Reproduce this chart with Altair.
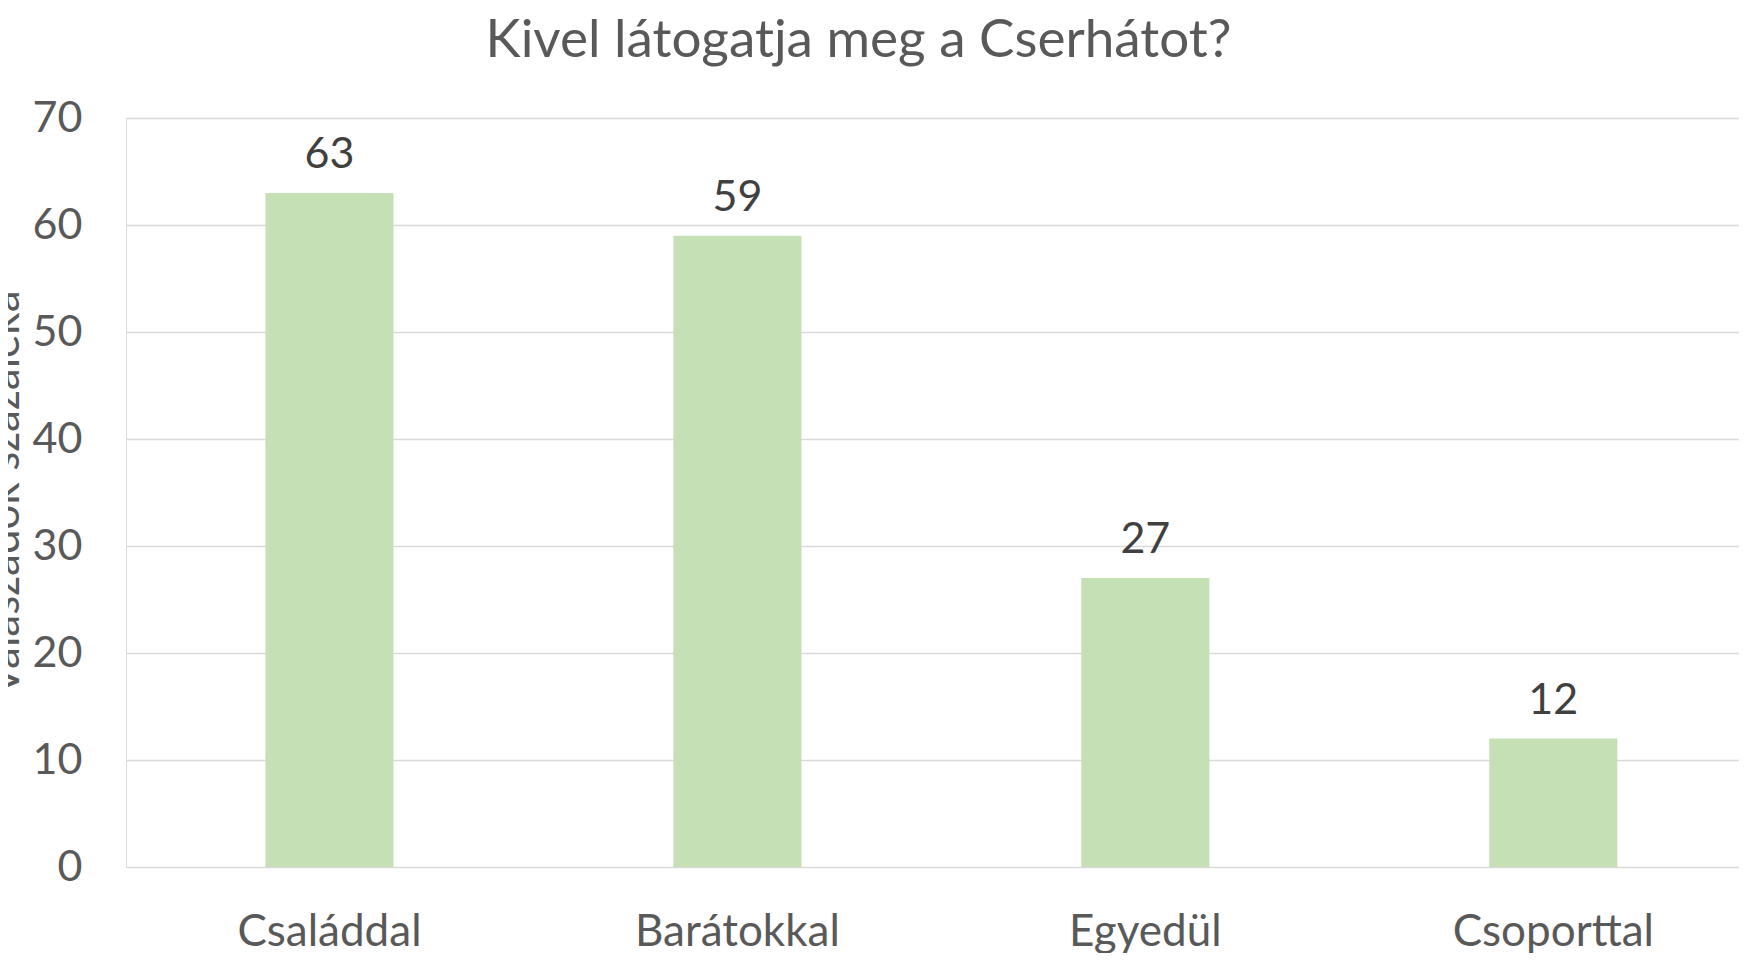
import altair as alt
import pandas as pd

categories = ["Családdal", "Barátokkal", "Egyedül", "Csoporttal"]
values = [63, 59, 27, 12]
y_ticks = [0, 10, 20, 30, 40, 50, 60, 70]

df = pd.DataFrame({"kat": categories, "ertek": values})

FONT = "Lato"
TXT = "#595959"

base = alt.Chart(df).encode(
    x=alt.X(
        "kat:N",
        sort=categories,
        scale=alt.Scale(paddingInner=0.686, paddingOuter=0.32, align=0.534),
        axis=alt.Axis(
            title=None,
            labelAngle=0,
            labelFont=FONT,
            labelFontSize=44,
            labelColor=TXT,
            labelBaseline="alphabetic",
            labelPadding=78,
            labelLimit=600,
            ticks=False,
            tickSize=0,
            domain=False,
            grid=False,
        ),
    ),
    y=alt.Y(
        "ertek:Q",
        scale=alt.Scale(domain=[0, 70], nice=False),
        axis=alt.Axis(
            values=y_ticks,
            title="Válaszadók százaléka",
            titleFont=FONT,
            titleFontSize=44,
            titleFontWeight="normal",
            titleColor=TXT,
            titleAngle=270,
            titleBaseline="alphabetic",
            titleX=-108,
            titleAlign="center",
            labelFont=FONT,
            labelFontSize=43,
            labelColor=TXT,
            labelPadding=44,
            ticks=False,
            tickSize=0,
            domain=False,
            grid=True,
            gridColor="#D9D9D9",
            gridWidth=1.5,
        ),
    ),
)

bars = base.mark_bar(color="#C5E0B4")
labels = base.mark_text(
    font=FONT, fontSize=43, color="#404040", baseline="alphabetic", dy=-25
).encode(text="ertek:Q")

chart = (
    alt.layer(bars, labels)
    .properties(
        width=1613,
        height=749,
        title=alt.TitleParams(
            "Kivel látogatja meg a Cserhátot?",
            font=FONT,
            fontSize=53,
            fontWeight="normal",
            color=TXT,
            anchor="middle",
            baseline="alphabetic",
            offset=20,
            dy=33,
            dx=-74,
        ),
        autosize=alt.AutoSizeParams(type="none"),
        padding={"left": 118, "top": 110, "right": 0, "bottom": 86},
    )
    .configure_view(stroke=None)
    .configure(background="white")
)

chart.save("out.html", embed_options={"renderer": "svg", "actions": False})
